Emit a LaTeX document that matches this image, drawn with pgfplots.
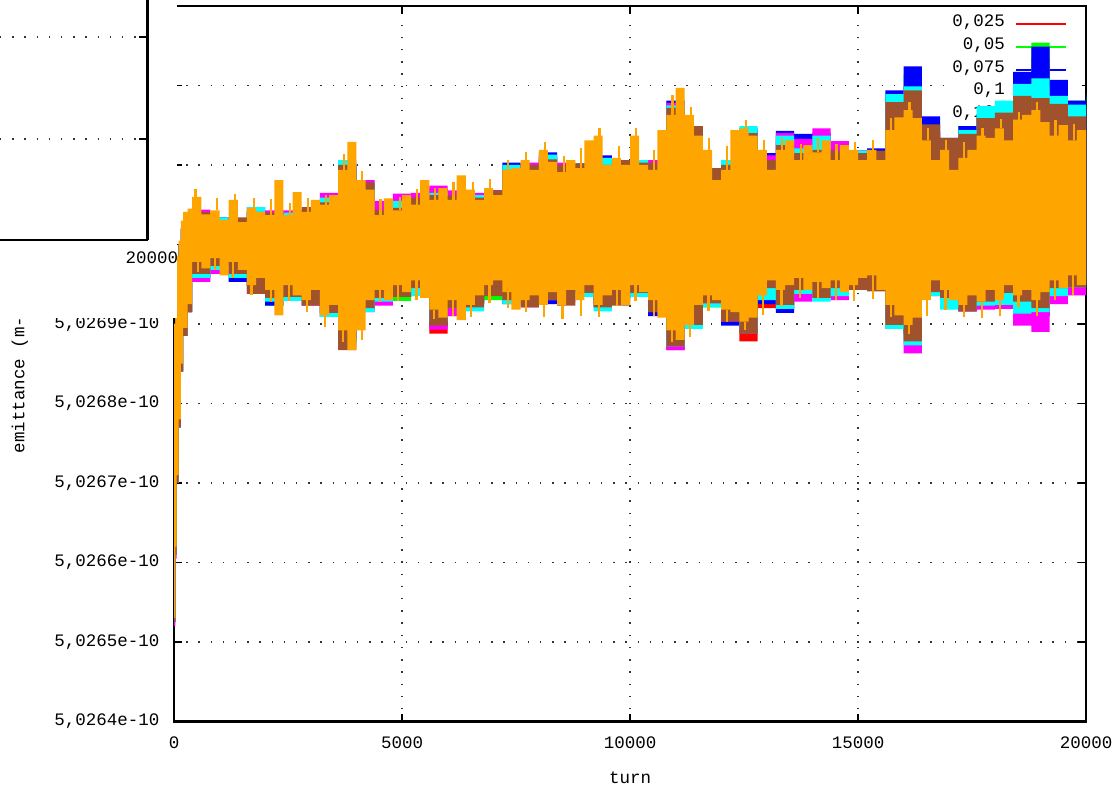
\documentclass[border=0pt]{standalone}
\usepackage{fontspec}
\setmonofont{Liberation Mono}
\usepackage{pgfplots}
\pgfplotsset{compat=1.18}

\definecolor{gred}{RGB}{255,0,0}
\definecolor{ggreen}{RGB}{0,255,0}
\definecolor{gblue}{RGB}{0,0,255}
\definecolor{gmagenta}{RGB}{255,0,255}
\definecolor{gcyan}{RGB}{0,255,255}
\definecolor{gbrown}{RGB}{160,82,45}
\definecolor{gorange}{RGB}{255,165,0}
\newcommand{\gfont}{\fontsize{17.5}{20}\selectfont\ttfamily}

\begin{document}
\begin{tikzpicture}[x=1pt,y=1pt]
% y values: (emittance - 5.0264e-10) / 1e-14 ; each series drawn as its envelope band
\begin{axis}[
  scale only axis, width=912pt, height=715.5pt,
  at={(174pt,70.5pt)}, anchor=south west,
  xmin=0, xmax=20000, ymin=0, ymax=9,
  scaled x ticks=false, scaled y ticks=false,
  xtick={0,5000,10000,15000,20000},
  xticklabels={0,5000,10000,15000,20000},
  ytick={0,1,2,3,4,5,6,7,8,9},
  yticklabels={{5,0264e-10},{5,0265e-10},{5,0266e-10},{5,0267e-10},{5,0268e-10},{5,0269e-10},{},{},{},{}},
  tick pos=both, ticklabel pos=left,
  tick align=inside, major tick length=8pt,
  tick style={line width=1.5pt, black},
  axis line style={line width=2.6pt, black},
  grid=major,
  major grid style={black!80, line width=1.4pt, dash pattern=on 1.4pt off 10.8pt},
  ticklabel style={font=\gfont},
  xticklabel style={yshift=-12pt},
  yticklabel style={xshift=-11pt},
  xlabel={turn}, ylabel={emittance (m-rad)},
  every axis x label/.style={at={(axis description cs:0.5,-0.086)}, anchor=base, font=\gfont},
  every axis y label/.style={at={(axis description cs:-0.169,0.5)}, anchor=center, rotate=90, font=\gfont},
  unbounded coords=jump,
]
% key area (drawn under the data, as in the original)
\fill[white] (axis cs:16908,6.87) rectangle (axis cs:19912,8.96);
\node[anchor=east, font=\gfont, inner sep=0pt] at (axis cs:18224,8.792) {0,025};
\node[anchor=east, font=\gfont, inner sep=0pt] at (axis cs:18224,8.503) {0,05};
\node[anchor=east, font=\gfont, inner sep=0pt] at (axis cs:18224,8.220) {0,075};
\node[anchor=east, font=\gfont, inner sep=0pt] at (axis cs:18224,7.937) {0,1};
\node[anchor=east, font=\gfont, inner sep=0pt] at (axis cs:18224,7.654) {0,125};
\node[anchor=east, font=\gfont, inner sep=0pt] at (axis cs:18224,7.371) {0,15};
\node[anchor=east, font=\gfont, inner sep=0pt] at (axis cs:18224,7.088) {0,175};
\draw[gred, line width=2pt] (axis cs:18465,8.77) -- (axis cs:19561,8.77);
\draw[ggreen, line width=2pt] (axis cs:18465,8.48) -- (axis cs:19561,8.48);
\draw[gblue, line width=2pt] (axis cs:18465,8.20) -- (axis cs:19561,8.20);
\draw[gmagenta, line width=2pt] (axis cs:18465,7.92) -- (axis cs:19561,7.92);
\draw[gcyan, line width=2pt] (axis cs:18465,7.63) -- (axis cs:19561,7.63);
\draw[gbrown, line width=2pt] (axis cs:18465,7.35) -- (axis cs:19561,7.35);
\draw[gorange, line width=2pt] (axis cs:18465,7.07) -- (axis cs:19561,7.07);

% 0,025 (red)
\addplot[fill=gred, draw=none, const plot] coordinates {
(0,5.00)(30,5.50)(60,5.80)(100,6.00)(150,6.20)(200,6.35)(300,6.38)
(400,6.38)(800,6.31)(1200,6.31)(1600,6.41)(2000,6.37)(2400,6.40)(2800,6.41)(3200,6.53)(3600,6.97)(4000,6.69)
(4400,6.40)(4800,6.43)(5200,6.53)(5600,6.62)(6000,6.56)(6400,6.59)(6800,6.62)(7200,6.97)(7600,6.94)(8000,7.10)
(8400,6.91)(8800,6.99)(9200,7.00)(9600,7.06)(10000,7.00)(10400,7.00)(10800,7.69)(11200,7.40)(11600,6.87)(12000,6.97)
(12400,7.43)(12800,7.06)(13200,7.31)(13600,7.24)(14000,7.28)(14400,7.15)(14800,7.12)(15200,7.12)(15600,7.74)(16000,7.99)
(16400,7.41)(16800,7.24)(17200,7.39)(17600,7.59)(18000,7.61)(18400,7.97)(18800,8.34)(19200,7.87)(19600,7.71)(20000,7.74)
(20000,5.51)(19600,5.45)(19200,5.25)(18800,5.23)(18400,5.39)(18000,5.33)(17600,5.21)(17200,5.33)(16800,5.45)(16400,4.88)
(16000,5.04)(15600,5.51)(15200,5.48)(14800,5.45)(14400,5.38)(14000,5.38)(13600,5.19)(13200,5.20)(12800,4.78)(12400,5.08)
(12000,5.26)(11600,5.04)(11200,4.67)(10800,5.15)(10400,5.39)(10000,5.33)(9600,5.26)(9200,5.39)(8800,5.33)(8400,5.30)
(8000,5.26)(7600,5.30)(7200,5.40)(6800,5.26)(6400,5.20)(6000,4.88)(5600,5.40)(5200,5.39)(4800,5.33)(4400,5.20)
(4000,4.77)(3600,5.14)(3200,5.33)(2800,5.39)(2400,5.28)(2000,5.48)(1600,5.68)(1200,5.68)(800,5.68)
(400,5.15)(300,4.85)(200,4.40)(150,3.70)(100,3.00)(60,2.10)(30,1.25)(0,1.25)
} --cycle;

% 0,05 (green)
\addplot[fill=ggreen, draw=none, const plot] coordinates {
(0,5.00)(30,5.50)(60,5.80)(100,6.00)(150,6.20)(200,6.35)(300,6.38)
(400,6.41)(800,6.31)(1200,6.28)(1600,6.44)(2000,6.37)(2400,6.37)(2800,6.44)(3200,6.53)(3600,7.00)(4000,6.72)
(4400,6.43)(4800,6.46)(5200,6.56)(5600,6.62)(6000,6.59)(6400,6.62)(6800,6.65)(7200,7.00)(7600,7.00)(8000,7.07)
(8400,6.97)(8800,7.02)(9200,7.03)(9600,7.06)(10000,7.06)(10400,7.03)(10800,7.75)(11200,7.43)(11600,6.90)(12000,7.00)
(12400,7.46)(12800,7.12)(13200,7.37)(13600,7.33)(14000,7.34)(14400,7.21)(14800,7.18)(15200,7.18)(15600,7.89)(16000,8.14)
(16400,7.51)(16800,7.29)(17200,7.49)(17600,7.64)(18000,7.66)(18400,8.12)(18800,8.54)(19200,8.02)(19600,7.81)(20000,7.84)
(20000,5.51)(19600,5.40)(19200,5.15)(18800,5.23)(18400,5.34)(18000,5.23)(17600,5.26)(17200,5.28)(16800,5.45)(16400,4.83)
(16000,5.04)(15600,5.46)(15200,5.48)(14800,5.35)(14400,5.38)(14000,5.38)(13600,5.19)(13200,5.30)(12800,4.88)(12400,5.08)
(12000,5.21)(11600,5.14)(11200,4.77)(10800,5.20)(10400,5.34)(10000,5.33)(9600,5.26)(9200,5.34)(8800,5.33)(8400,5.30)
(8000,5.26)(7600,5.30)(7200,5.30)(6800,5.26)(6400,5.10)(6000,5.08)(5600,5.40)(5200,5.29)(4800,5.28)(4400,5.20)
(4000,4.77)(3600,5.14)(3200,5.28)(2800,5.39)(2400,5.23)(2000,5.43)(1600,5.68)(1200,5.63)(800,5.63)
(400,5.15)(300,4.85)(200,4.40)(150,3.70)(100,3.00)(60,2.10)(30,1.25)(0,1.25)
} --cycle;

% 0,075 (blue)
\addplot[fill=gblue, draw=none, const plot] coordinates {
(0,5.00)(30,5.50)(60,5.80)(100,6.00)(150,6.20)(200,6.35)(300,6.38)
(400,6.38)(800,6.34)(1200,6.28)(1600,6.47)(2000,6.37)(2400,6.40)(2800,6.44)(3200,6.56)(3600,7.00)(4000,6.75)
(4400,6.46)(4800,6.49)(5200,6.62)(5600,6.71)(6000,6.62)(6400,6.59)(6800,6.68)(7200,7.03)(7600,7.00)(8000,7.16)
(8400,6.94)(8800,7.02)(9200,7.12)(9600,7.06)(10000,7.06)(10400,7.00)(10800,7.81)(11200,7.49)(11600,6.96)(12000,7.00)
(12400,7.43)(12800,7.15)(13200,7.43)(13600,7.39)(14000,7.40)(14400,7.24)(14800,7.18)(15200,7.21)(15600,7.94)(16000,8.24)
(16400,7.61)(16800,7.34)(17200,7.49)(17600,7.64)(18000,7.76)(18400,8.17)(18800,8.49)(19200,8.07)(19600,7.81)(20000,7.89)
(20000,5.46)(19600,5.35)(19200,5.10)(18800,5.13)(18400,5.29)(18000,5.28)(17600,5.16)(17200,5.28)(16800,5.45)(16400,4.88)
(16000,5.04)(15600,5.51)(15200,5.43)(14800,5.35)(14400,5.33)(14000,5.33)(13600,5.14)(13200,5.25)(12800,4.93)(12400,4.98)
(12000,5.26)(11600,5.14)(11200,4.77)(10800,5.10)(10400,5.39)(10000,5.33)(9600,5.21)(9200,5.39)(8800,5.33)(8400,5.25)
(8000,5.26)(7600,5.25)(7200,5.45)(6800,5.26)(6400,5.15)(6000,4.98)(5600,5.45)(5200,5.34)(4800,5.33)(4400,5.20)
(4000,4.82)(3600,5.09)(3200,5.33)(2800,5.34)(2400,5.23)(2000,5.48)(1600,5.53)(1200,5.68)(800,5.58)
(400,5.15)(300,4.85)(200,4.40)(150,3.70)(100,3.00)(60,2.10)(30,1.25)(0,1.25)
} --cycle;

% 0,1 (magenta)
\addplot[fill=gmagenta, draw=none, const plot] coordinates {
(0,5.00)(30,5.50)(60,5.80)(100,6.00)(150,6.20)(200,6.35)(300,6.38)
(400,6.44)(800,6.31)(1200,6.31)(1600,6.41)(2000,6.43)(2400,6.43)(2800,6.44)(3200,6.65)(3600,7.03)(4000,6.81)
(4400,6.55)(4800,6.64)(5200,6.65)(5600,6.74)(6000,6.68)(6400,6.65)(6800,6.68)(7200,6.97)(7600,7.03)(8000,7.10)
(8400,7.03)(8800,6.99)(9200,7.09)(9600,7.06)(10000,7.03)(10400,7.06)(10800,7.78)(11200,7.46)(11600,6.93)(12000,7.03)
(12400,7.46)(12800,7.12)(13200,7.40)(13600,7.33)(14000,7.46)(14400,7.30)(14800,7.18)(15200,7.15)(15600,7.74)(16000,7.94)
(16400,7.41)(16800,7.24)(17200,7.39)(17600,7.59)(18000,7.66)(18400,7.87)(18800,7.99)(19200,7.67)(19600,7.61)(20000,7.69)
(20000,5.36)(19600,5.25)(19200,4.90)(18800,4.98)(18400,5.19)(18000,5.18)(17600,5.16)(17200,5.28)(16800,5.35)(16400,4.63)
(16000,4.94)(15600,5.46)(15200,5.48)(14800,5.30)(14400,5.33)(14000,5.28)(13600,5.24)(13200,5.35)(12800,4.88)(12400,5.03)
(12000,5.26)(11600,5.04)(11200,4.67)(10800,5.15)(10400,5.39)(10000,5.28)(9600,5.26)(9200,5.39)(8800,5.28)(8400,5.30)
(8000,5.21)(7600,5.30)(7200,5.40)(6800,5.26)(6400,5.10)(6000,4.93)(5600,5.45)(5200,5.34)(4800,5.23)(4400,5.15)
(4000,4.82)(3600,5.09)(3200,5.23)(2800,5.34)(2400,5.33)(2000,5.38)(1600,5.63)(1200,5.63)(800,5.53)
(400,5.15)(300,4.85)(200,4.40)(150,3.70)(100,3.00)(60,2.05)(30,1.20)(0,1.20)
} --cycle;

% 0,125 (cyan)
\addplot[fill=gcyan, draw=none, const plot] coordinates {
(0,5.00)(30,5.50)(60,5.80)(100,6.00)(150,6.20)(200,6.35)(300,6.38)
(400,6.38)(800,6.34)(1200,6.25)(1600,6.47)(2000,6.37)(2400,6.40)(2800,6.41)(3200,6.59)(3600,7.06)(4000,6.75)
(4400,6.40)(4800,6.55)(5200,6.56)(5600,6.65)(6000,6.59)(6400,6.62)(6800,6.65)(7200,7.00)(7600,6.94)(8000,7.13)
(8400,6.94)(8800,7.02)(9200,7.09)(9600,7.00)(10000,7.06)(10400,7.00)(10800,7.75)(11200,7.43)(11600,6.93)(12000,7.06)
(12400,7.49)(12800,7.00)(13200,7.37)(13600,7.21)(14000,7.37)(14400,7.12)(14800,7.18)(15200,7.15)(15600,7.89)(16000,7.99)
(16400,7.36)(16800,7.29)(17200,7.44)(17600,7.74)(18000,7.81)(18400,8.02)(18800,8.09)(19200,7.87)(19600,7.76)(20000,7.89)
(20000,5.46)(19600,5.35)(19200,5.15)(18800,5.13)(18400,5.24)(18000,5.23)(17600,5.21)(17200,5.18)(16800,5.35)(16400,4.73)
(16000,4.94)(15600,5.51)(15200,5.43)(14800,5.35)(14400,5.28)(14000,5.38)(13600,5.19)(13200,5.30)(12800,4.93)(12400,5.08)
(12000,5.21)(11600,4.94)(11200,4.72)(10800,5.20)(10400,5.34)(10000,5.33)(9600,5.16)(9200,5.34)(8800,5.33)(8400,5.30)
(8000,5.26)(7600,5.25)(7200,5.45)(6800,5.16)(6400,5.20)(6000,5.03)(5600,5.35)(5200,5.39)(4800,5.28)(4400,5.15)
(4000,4.72)(3600,5.09)(3200,5.33)(2800,5.29)(2400,5.28)(2000,5.48)(1600,5.58)(1200,5.68)(800,5.58)
(400,5.15)(300,4.85)(200,4.40)(150,3.70)(100,3.00)(60,2.10)(30,1.25)(0,1.25)
} --cycle;

% 0,15 (brown)
\addplot[fill=gbrown, draw=none, const plot] coordinates {
(0,5.00)(30,5.50)(60,5.80)(100,6.00)(150,6.20)(200,6.35)(300,6.38)
(400,6.41)(800,6.28)(1200,6.34)(1600,6.41)(2000,6.40)(2400,6.37)(2800,6.47)(3200,6.53)(3600,7.00)(4000,6.78)
(4400,6.43)(4800,6.46)(5200,6.59)(5600,6.62)(6000,6.62)(6400,6.59)(6800,6.68)(7200,6.94)(7600,7.00)(8000,7.07)
(8400,7.00)(8800,7.02)(9200,7.00)(9600,7.06)(10000,7.03)(10400,7.03)(10800,7.72)(11200,7.49)(11600,6.96)(12000,7.00)
(12400,7.40)(12800,7.06)(13200,7.25)(13600,7.15)(14000,7.19)(14400,7.18)(14800,7.15)(15200,7.18)(15600,7.79)(16000,7.94)
(16400,7.51)(16800,7.34)(17200,7.39)(17600,7.59)(18000,7.66)(18400,7.87)(18800,7.84)(19200,7.77)(19600,7.61)(20000,7.69)
(20000,5.46)(19600,5.45)(19200,5.20)(18800,5.28)(18400,5.39)(18000,5.28)(17600,5.16)(17200,5.33)(16800,5.40)(16400,4.78)
(16000,4.99)(15600,5.41)(15200,5.43)(14800,5.45)(14400,5.33)(14000,5.43)(13600,5.24)(13200,5.45)(12800,4.88)(12400,5.03)
(12000,5.26)(11600,4.99)(11200,4.72)(10800,5.15)(10400,5.39)(10000,5.23)(9600,5.21)(9200,5.39)(8800,5.23)(8400,5.30)
(8000,5.21)(7600,5.30)(7200,5.35)(6800,5.21)(6400,5.20)(6000,4.98)(5600,5.45)(5200,5.34)(4800,5.33)(4400,5.20)
(4000,4.67)(3600,5.14)(3200,5.23)(2800,5.34)(2400,5.33)(2000,5.38)(1600,5.63)(1200,5.73)(800,5.63)
(400,5.15)(300,4.85)(200,4.40)(150,3.70)(100,3.00)(60,2.10)(30,1.25)(0,1.25)
} --cycle;

% 0,175 (orange)
\addplot[fill=gorange, draw=none, const plot] coordinates {
(0,5.00)(30,5.50)(60,5.85)(100,6.05)(150,6.30)(200,6.41)(300,6.45)
(400,6.60)(600,6.38)(800,6.43)(1000,6.31)(1200,6.56)(1400,6.28)(1600,6.46)(1800,6.41)(2000,6.37)(2200,6.81)
(2400,6.37)(2600,6.66)(2800,6.41)(3000,6.56)(3200,6.50)(3400,6.62)(3600,6.94)(3800,7.29)(4000,6.81)(4200,6.69)
(4400,6.37)(4600,6.58)(4800,6.43)(5000,6.62)(5200,6.50)(5400,6.81)(5600,6.56)(5800,6.71)(6000,6.56)(6200,6.87)
(6400,6.69)(6600,6.56)(6800,6.71)(7000,6.62)(7200,6.94)(7400,6.96)(7600,7.06)(7800,6.94)(8000,7.19)(8200,7.04)
(8400,6.91)(8600,7.06)(8800,6.96)(9000,7.31)(9200,7.37)(9400,7.00)(9600,7.09)(9800,7.00)(10000,7.37)(10200,7.00)
(10400,6.94)(10600,7.44)(10800,7.63)(11000,7.97)(11200,7.63)(11400,7.37)(11600,7.19)(11800,6.81)(12000,6.94)(12200,7.44)
(12400,7.46)(12600,7.37)(12800,7.19)(13000,6.94)(13200,7.19)(13400,7.31)(13600,7.06)(13800,7.25)(14000,7.16)(14200,7.31)
(14400,7.06)(14600,7.25)(14800,7.19)(15000,7.06)(15200,7.19)(15400,7.06)(15600,7.44)(15800,7.60)(16000,7.69)(16200,7.59)
(16400,7.31)(16600,7.06)(16800,7.19)(17000,6.94)(17200,7.09)(17400,7.19)(17600,7.37)(17800,7.34)(18000,7.46)(18200,7.31)
(18400,7.57)(18600,7.63)(18800,7.69)(19000,7.54)(19200,7.37)(19400,7.50)(19600,7.31)(19800,7.44)(20000,7.34)
(20000,5.49)(19800,5.61)(19600,5.45)(19400,5.55)(19200,5.40)(19000,5.30)(18800,5.43)(18600,5.36)(18400,5.49)(18200,5.30)
(18000,5.43)(17800,5.28)(17600,5.36)(17400,5.24)(17200,5.30)(17000,5.43)(16800,5.55)(16600,5.30)(16400,5.08)(16200,4.99)
(16000,5.11)(15800,5.24)(15600,5.43)(15400,5.61)(15200,5.58)(15000,5.49)(14800,5.40)(14600,5.55)(14400,5.45)(14200,5.53)
(14000,5.43)(13800,5.58)(13600,5.49)(13400,5.43)(13200,5.55)(13000,5.36)(12800,5.08)(12600,5.03)(12400,5.15)(12200,5.18)
(12000,5.30)(11800,5.36)(11600,5.24)(11400,4.99)(11200,4.80)(11000,4.92)(10800,5.08)(10600,5.30)(10400,5.40)(10200,5.49)
(10000,5.24)(9800,5.43)(9600,5.36)(9400,5.24)(9200,5.49)(9000,5.30)(8800,5.43)(8600,5.24)(8400,5.40)(8200,5.24)
(8000,5.36)(7800,5.30)(7600,5.18)(7400,5.40)(7200,5.55)(7000,5.49)(6800,5.36)(6600,5.24)(6400,5.05)(6200,5.30)
(6000,5.08)(5800,5.18)(5600,5.33)(5400,5.55)(5200,5.40)(5000,5.49)(4800,5.30)(4600,5.43)(4400,5.30)(4200,4.92)
(4000,4.67)(3800,4.92)(3600,5.24)(3400,5.11)(3200,5.43)(3000,5.30)(2800,5.36)(2600,5.49)(2400,5.11)(2200,5.43)
(2000,5.58)(1800,5.49)(1600,5.68)(1400,5.78)(1200,5.61)(1000,5.83)(800,5.70)(600,5.78)
(400,5.25)(300,4.95)(200,4.50)(150,3.80)(100,3.10)(60,2.20)(30,1.30)(0,1.30)
} --cycle;

% 0,175 (orange): single-turn excursions beyond the band (vertical strokes)
\addplot[gorange, line width=2.2pt, mark=none, forget plot] coordinates {
(470,6.60)(470,6.70)(470,nan) (950,6.43)(950,6.58)(950,nan) (1330,6.56)(1330,6.64)(1330,nan)
(1750,6.46)(1750,6.58)(1750,nan) (2130,6.37)(2130,6.57)(2130,nan) (2550,6.37)(2550,6.52)(2550,nan)
(2930,6.41)(2930,6.59)(2930,nan) (3330,6.50)(3330,6.62)(3330,nan) (3720,6.94)(3720,7.14)(3720,nan)
(4130,6.81)(4130,6.93)(4130,nan) (4530,6.37)(4530,6.57)(4530,nan) (4950,6.43)(4950,6.60)(4950,nan)
(5330,6.50)(5330,6.70)(5330,nan) (5720,6.56)(5720,6.71)(5720,nan) (6130,6.56)(6130,6.78)(6130,nan)
(6550,6.69)(6550,6.79)(6550,nan) (6930,6.71)(6930,6.83)(6930,nan) (7330,6.94)(7330,7.06)(7330,nan)
(7720,7.06)(7720,7.16)(7720,nan) (8130,7.19)(8130,7.29)(8130,nan) (8550,6.91)(8550,7.11)(8550,nan)
(8930,6.96)(8930,7.21)(8930,nan) (9330,7.37)(9330,7.47)(9330,nan) (9750,7.09)(9750,7.24)(9750,nan)
(10130,7.37)(10130,7.47)(10130,nan) (10530,6.94)(10530,7.19)(10530,nan) (10930,7.63)(10930,7.88)(10930,nan)
(11330,7.63)(11330,7.73)(11330,nan) (11730,7.19)(11730,7.34)(11730,nan) (12130,6.94)(12130,7.24)(12130,nan)
(12550,7.46)(12550,7.56)(12550,nan) (12930,7.19)(12930,7.31)(12930,nan) (13330,7.19)(13330,7.34)(13330,nan)
(13750,7.06)(13750,7.26)(13750,nan) (14130,7.16)(14130,7.34)(14130,nan) (14530,7.06)(14530,7.26)(14530,nan)
(14930,7.19)(14930,7.29)(14930,nan) (15330,7.19)(15330,7.31)(15330,nan) (15730,7.44)(15730,7.59)(15730,nan)
(16130,7.69)(16130,7.79)(16130,nan) (16530,7.31)(16530,7.46)(16530,nan) (16930,7.19)(16930,7.31)(16930,nan)
(17330,7.09)(17330,7.29)(17330,nan) (17730,7.37)(17730,7.47)(17730,nan) (18130,7.46)(18130,7.58)(18130,nan)
(18530,7.57)(18530,7.67)(18530,nan) (18930,7.69)(18930,7.79)(18930,nan) (19330,7.37)(19330,7.57)(19330,nan)
(19730,7.31)(19730,7.51)(19730,nan)
(520,5.78)(520,5.66)(520,nan) (900,5.83)(900,5.68)(900,nan) (1300,5.78)(1300,5.58)(1300,nan)
(1700,5.49)(1700,5.37)(1700,nan) (2120,5.43)(2120,5.28)(2120,nan) (2520,5.49)(2520,5.29)(2520,nan)
(2920,5.30)(2920,5.15)(2920,nan) (3320,5.11)(3320,4.96)(3320,nan) (3700,4.92)(3700,4.77)(3700,nan)
(4120,4.92)(4120,4.80)(4120,nan) (4520,5.43)(4520,5.28)(4520,nan) (4920,5.49)(4920,5.29)(4920,nan)
(5320,5.55)(5320,5.30)(5320,nan) (5700,5.18)(5700,5.06)(5700,nan) (6120,5.30)(6120,5.10)(6120,nan)
(6520,5.24)(6520,5.09)(6520,nan) (6920,5.49)(6920,5.27)(6920,nan) (7320,5.40)(7320,5.20)(7320,nan)
(7720,5.30)(7720,5.15)(7720,nan) (8120,5.24)(8120,5.09)(8120,nan) (8520,5.24)(8520,5.06)(8520,nan)
(8920,5.30)(8920,5.10)(8920,nan) (9320,5.24)(9320,5.09)(9320,nan) (9720,5.43)(9720,5.23)(9720,nan)
(10120,5.49)(10120,5.29)(10120,nan) (10520,5.30)(10520,5.10)(10520,nan) (10920,4.92)(10920,4.77)(10920,nan)
(11320,4.99)(11320,4.84)(11320,nan) (11720,5.36)(11720,5.16)(11720,nan) (12120,5.18)(12120,5.03)(12120,nan)
(12520,5.03)(12520,4.93)(12520,nan) (12920,5.36)(12920,5.11)(12920,nan) (13320,5.43)(13320,5.23)(13320,nan)
(13720,5.58)(13720,5.33)(13720,nan) (14120,5.53)(14120,5.33)(14120,nan) (14520,5.55)(14520,5.30)(14520,nan)
(14920,5.49)(14920,5.29)(14920,nan) (15320,5.61)(15320,5.31)(15320,nan) (15720,5.24)(15720,5.09)(15720,nan)
(16120,4.99)(16120,4.87)(16120,nan) (16520,5.30)(16520,5.10)(16520,nan) (16920,5.43)(16920,5.18)(16920,nan)
(17320,5.24)(17320,5.09)(17320,nan) (17720,5.28)(17720,5.08)(17720,nan) (18120,5.30)(18120,5.10)(18120,nan)
(18520,5.36)(18520,5.21)(18520,nan) (18920,5.30)(18920,5.10)(18920,nan) (19320,5.55)(19320,5.30)(19320,nan)
(19720,5.61)(19720,5.36)
};
\end{axis}

% opaque region of the inset plot
\fill[white] (0,474) rectangle (177,792);

\begin{axis}[
  scale only axis, width=147.5pt, height=240pt,
  at={(0pt,552pt)}, anchor=south west,
  xmin=0, xmax=20000, ymin=0, ymax=240,
  scaled x ticks=false, scaled y ticks=false,
  axis x line*=bottom, axis y line*=right,
  xtick={20000}, xticklabels={20000},
  ytick={0,101,203}, yticklabels={},
  tick align=inside, major tick length=8pt,
  tick style={line width=1.5pt, black},
  axis line style={-, line width=2.6pt, black},
  ymajorgrids,
  major grid style={black!80, line width=1.4pt, dash pattern=on 1.4pt off 10.8pt},
  ticklabel style={font=\gfont},
  xticklabel style={yshift=-8pt, xshift=4.5pt},
]
\end{axis}

\pgfresetboundingbox
\useasboundingbox (0,0) rectangle (1115,792);
\end{tikzpicture}
\end{document}
